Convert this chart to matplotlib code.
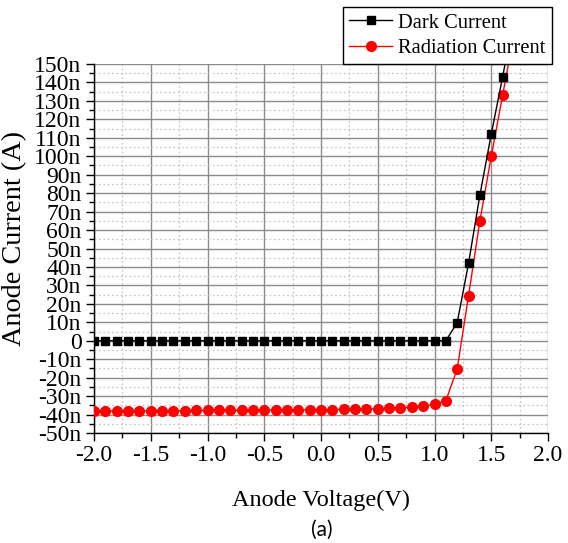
import numpy as np
import matplotlib
matplotlib.use("Agg")
import matplotlib.pyplot as plt
from matplotlib.ticker import MultipleLocator, FuncFormatter

# anode voltage sweep (V)
voltage = [-2.0, -1.9, -1.8, -1.7, -1.6, -1.5, -1.4, -1.3, -1.2, -1.1,
           -1.0, -0.9, -0.8, -0.7, -0.6, -0.5, -0.4, -0.3, -0.2, -0.1,
           0.0, 0.1, 0.2, 0.3, 0.4, 0.5, 0.6, 0.7, 0.8, 0.9,
           1.0, 1.1, 1.2, 1.3, 1.4, 1.5, 1.6]

# anode current in nA
dark_current = [0.0] * 32 + [9.8, 42.0, 79.0, 112.0, 143.0]
radiation_current = [-38.1, -38.1, -38.0, -38.0, -38.0, -38.0, -37.9, -37.9, -37.9, -37.8,
                     -37.8, -37.8, -37.7, -37.7, -37.7, -37.6, -37.6, -37.5, -37.5, -37.4,
                     -37.3, -37.3, -37.2, -37.1, -37.0, -36.9, -36.7, -36.4, -36.0, -35.4,
                     -34.5, -32.5, -15.3, 24.5, 65.0, 100.0, 133.0]

# lines run on past the last measured point up to the top of the frame
dark_tail = (1.7, 175.0)
rad_tail = (1.7, 166.0)

plt.rcParams['font.family'] = ['Liberation Serif', 'DejaVu Serif']

fig = plt.figure(figsize=(5.68, 5.43), dpi=100)
ax = fig.add_axes([0.1655, 0.2026, 0.7993, 0.6795])

n = len(voltage)
ax.plot(voltage + [dark_tail[0]], dark_current + [dark_tail[1]], color='black', lw=1.0,
        marker='s', markersize=6, markevery=list(range(n)), label='Dark Current',
        zorder=4)
ax.plot(voltage + [rad_tail[0]], radiation_current + [rad_tail[1]], color='red', lw=1.0,
        marker='o', markersize=7, markevery=list(range(n)), label='Radiation Current',
        zorder=3)

ax.set_xlim(-2.0, 2.0)
ax.set_ylim(-50, 150)
ax.xaxis.set_major_locator(MultipleLocator(0.5))
ax.xaxis.set_minor_locator(MultipleLocator(0.25))
ax.yaxis.set_major_locator(MultipleLocator(10))
ax.yaxis.set_minor_locator(MultipleLocator(5))
ax.xaxis.set_major_formatter(FuncFormatter(lambda v, p: f"{v:.1f}"))
ax.yaxis.set_major_formatter(FuncFormatter(lambda v, p: "0" if abs(v) < 1e-9 else f"{int(round(v))}n"))

ax.grid(which='major', color='#8c8c8c', lw=1.0, ls='-')
ax.grid(which='minor', color='#c8c8c8', lw=0.9, ls=(0, (1.5, 2)))
ax.set_axisbelow(True)

for side in ['top', 'right']:
    ax.spines[side].set_visible(False)
for side in ['left', 'bottom']:
    ax.spines[side].set_linewidth(1.0)

ax.tick_params(which='major', direction='out', length=6, width=1.0, labelsize=17, pad=3)
ax.tick_params(which='minor', direction='out', length=3.5, width=1.0)

ax.set_xlabel('Anode Voltage(V)', fontsize=17.5, labelpad=17)
ax.set_ylabel('Anode Current (A)', fontsize=20.3)
ax.yaxis.set_label_coords(-0.147, 0.526)

leg = ax.legend(loc='upper right', bbox_to_anchor=(1.0088, 1.1545), fontsize=14.8,
                frameon=True, fancybox=False, edgecolor='black', framealpha=1,
                handlelength=2.1, handletextpad=0.3, borderpad=0.3,
                labelspacing=0.28, borderaxespad=0)
leg.get_frame().set_linewidth(1.0)

fig.text(0.567, 0.006, '(a)', fontsize=15, family=['Lato', 'DejaVu Sans'],
         ha='center', va='bottom')

fig.savefig('out.png', dpi=100)
